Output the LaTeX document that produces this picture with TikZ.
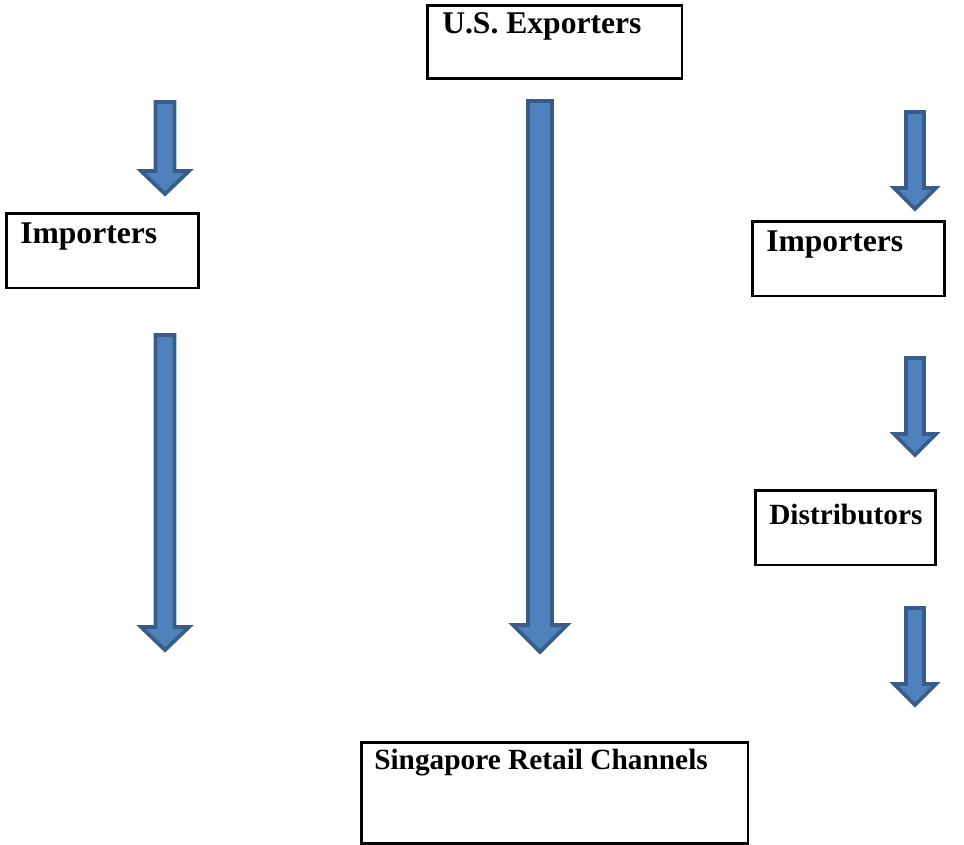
\documentclass[tikz,border=0pt]{standalone}
\usepackage{fontspec}
\setmainfont{Liberation Serif}
\definecolor{arrfill}{HTML}{4F81BD}
\definecolor{arredge}{HTML}{385D8A}
\newcommand\flowarrow[6]{% cx, top, tip, shaft half width, head half width, head length
  \filldraw[arrow shape] (#1-#4,#2) -- (#1+#4,#2) -- (#1+#4,#3-#6) -- (#1+#5,#3-#6)
    -- (#1,#3) -- (#1-#5,#3-#6) -- (#1-#4,#3-#6) -- cycle;}
\begin{document}
\begin{tikzpicture}[x=0.75pt,y=-0.75pt,
  box/.style={draw=black, line width=2pt, anchor=north west, inner sep=0pt},
  lbl/.style={anchor=base west, inner sep=0pt, font=\fontsize{22}{26}\selectfont\bfseries},
  biglbl/.style={lbl, font=\fontsize{23.7}{28}\selectfont\bfseries},
  arrow shape/.style={fill=arrfill, draw=arredge, line width=2.8pt, line join=miter}]
\useasboundingbox (0,0) rectangle (964,844);
% boxes
\node[box, minimum width=191pt, minimum height=55pt] (exp) at (426,4) {};
\node[biglbl] (expt) at (442,33) {U.S. Exporters};
\node[box, minimum width=144pt, minimum height=56pt] (impl) at (5,212) {};
\node[biglbl] (implt) at (20,243) {Importers};
\node[box, minimum width=144pt, minimum height=56pt] (impr) at (751,220) {};
\node[biglbl] (imprt) at (766,251) {Importers};
\node[box, minimum width=135pt, minimum height=56pt] (dist) at (754,489) {};
\node[lbl] (distt) at (769,524) {Distributors};
\node[box, minimum width=290pt, minimum height=76pt] (ret) at (360,741) {};
\node[lbl] (rett) at (374,769) {Singapore Retail Channels};
% arrows
\flowarrow{165}{102}{194}{9.5}{24}{23}
\flowarrow{165}{335}{650}{9.5}{24}{23}
\flowarrow{540}{101}{652}{12}{27}{27}
\flowarrow{915}{112}{209}{9}{21}{21}
\flowarrow{915}{358}{455}{9}{21}{21}
\flowarrow{915}{608}{705}{9}{21}{21}
\end{tikzpicture}
\end{document}
